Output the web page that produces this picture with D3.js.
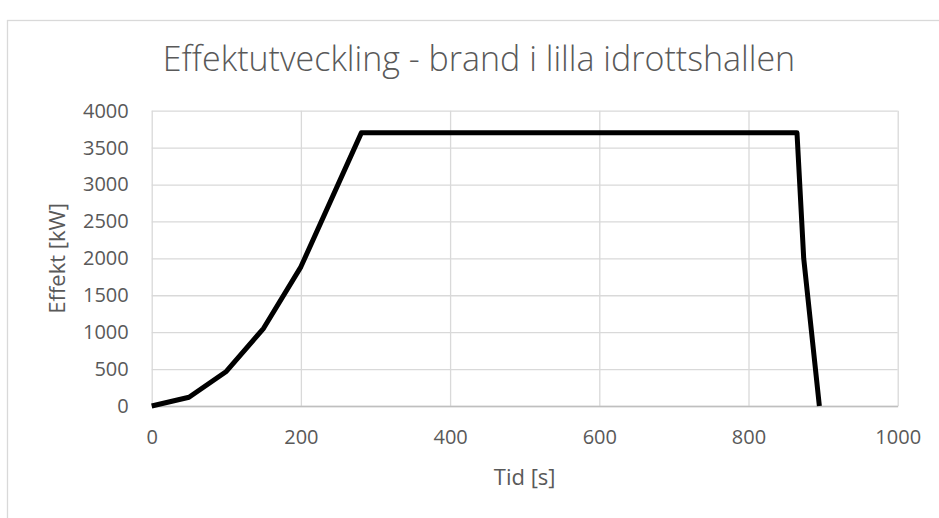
<!DOCTYPE html>
<html>
<head>
<meta charset="utf-8">
<script src="https://cdn.jsdelivr.net/npm/d3@7"></script>
<style>
  html, body { margin: 0; padding: 0; background: #fff; }
  svg { display: block; }
  text { font-family: "Open Sans", "Noto Sans", sans-serif; fill: #595959; }
</style>
</head>
<body>
<svg id="chart" width="939" height="518"></svg>
<script>
// Heat release rate over time
const timeS = [0, 50, 100, 150, 200, 281, 865, 874, 895];
const effektKW = [0, 118, 468, 1053, 1885, 3700, 3700, 2000, 0];
const xTicks = [0, 200, 400, 600, 800, 1000];
const yTicks = [0, 500, 1000, 1500, 2000, 2500, 3000, 3500, 4000];
const titleText = "Effektutveckling - brand i lilla idrottshallen";
const xTitle = "Tid [s]";
const yTitle = "Effekt [kW]";

const svg = d3.select("#chart");
const W = 939, H = 518;
const plot = { left: 151.7, right: 897.7, top: 110.7, bottom: 406 };

// outer chart frame
svg.append("rect")
  .attr("x", 7.5).attr("y", 20.5)
  .attr("width", W).attr("height", H)
  .attr("fill", "#fff").attr("stroke", "#d9d9d9").attr("stroke-width", 1.3);

const x = d3.scaleLinear().domain([0, 1000]).range([plot.left, plot.right]);
const y = d3.scaleLinear().domain([0, 4000]).range([plot.bottom, plot.top]);

// horizontal gridlines
svg.append("g")
  .attr("transform", `translate(${plot.left},0)`)
  .call(d3.axisLeft(y).tickValues(yTicks).tickSize(-(plot.right - plot.left)).tickFormat(""))
  .call(g => g.select(".domain").remove())
  .call(g => g.selectAll("line").attr("stroke", "#d9d9d9").attr("stroke-width", 1.3));

// vertical gridlines
svg.append("g")
  .attr("transform", `translate(0,${plot.bottom})`)
  .call(d3.axisBottom(x).tickValues(xTicks).tickSize(-(plot.bottom - plot.top)).tickFormat(""))
  .call(g => g.select(".domain").remove())
  .call(g => g.selectAll("line").attr("stroke", "#d9d9d9").attr("stroke-width", 1.3));

// x axis baseline and labels
const xAxis = svg.append("g")
  .attr("transform", `translate(0,${plot.bottom})`)
  .call(d3.axisBottom(x).tickValues(xTicks).tickSize(0).tickPadding(24).tickFormat(d3.format("d")));
xAxis.select(".domain").attr("stroke", "#bfbfbf").attr("stroke-width", 1.3);
xAxis.selectAll("text").style("font-size", "20px").attr("fill", "#595959");

// y axis labels
const yAxis = svg.append("g")
  .attr("transform", `translate(${plot.left},0)`)
  .call(d3.axisLeft(y).tickValues(yTicks).tickSize(0).tickPadding(23).tickFormat(d3.format("d")));
yAxis.select(".domain").remove();
yAxis.selectAll("text").style("font-size", "20px").attr("fill", "#595959");

// data line
const pts = timeS.map((t, i) => [t, effektKW[i]]);
svg.append("path")
  .datum(pts)
  .attr("fill", "none")
  .attr("stroke", "#000")
  .attr("stroke-width", 5)
  .attr("stroke-linejoin", "round")
  .attr("d", d3.line().x(d => x(d[0])).y(d => y(d[1])));

// titles
svg.append("text")
  .attr("x", 479).attr("y", 71)
  .attr("text-anchor", "middle")
  .style("font-size", "34px").style("font-weight", 300)
  .text(titleText);

svg.append("text")
  .attr("x", (plot.left + plot.right) / 2).attr("y", 485)
  .attr("text-anchor", "middle")
  .style("font-size", "22px")
  .text(xTitle);

svg.append("text")
  .attr("transform", `translate(65,${(plot.top + plot.bottom) / 2}) rotate(-90)`)
  .attr("text-anchor", "middle")
  .style("font-size", "22px")
  .text(yTitle);
</script>
</body>
</html>
